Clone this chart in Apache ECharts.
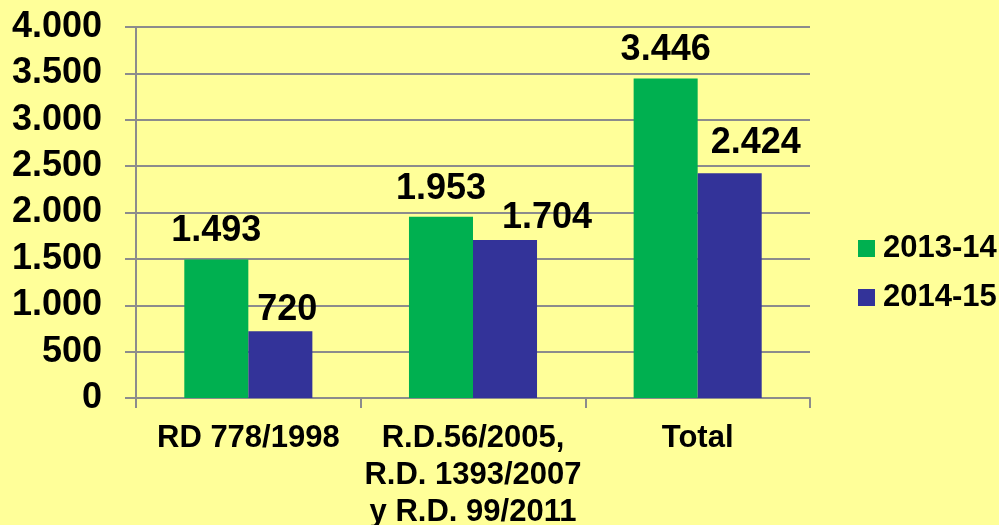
<!DOCTYPE html>
<html>
<head>
<meta charset="utf-8">
<script src="https://cdn.jsdelivr.net/npm/echarts@6/dist/echarts.min.js"></script>
<style>
  html, body { margin: 0; padding: 0; background: #ffff99; }
  #chart { width: 999px; height: 525px; }
</style>
</head>
<body>
<div id="chart"></div>
<script>
const categories = ['RD 778/1998', 'R.D.56/2005,\nR.D. 1393/2007\ny R.D. 99/2011', 'Total']
const seriesNames = ['2013-14', '2014-15']
const values2013 = [1493, 1953, 3446]
const values2014 = [720, 1704, 2424]

// hand placed labels in the original, nudged per point
const labelShift2013 = [[0, 0], [0, 0], [0, 0]]
const labelShift2014 = [[7, 7], [42, 6], [26, -2]]

const fmt = (v) => String(v).replace(/\B(?=(\d{3})+(?!\d))/g, '.')
const font = '"Liberation Sans", Arial, sans-serif'
const axisGray = '#8c8c8c'

function barData(values, shifts) {
  return values.map((v, i) => ({ value: v, label: { offset: shifts[i] } }))
}

const chart = echarts.init(document.getElementById('chart'), null, { renderer: 'canvas' })
chart.setOption({
  backgroundColor: '#ffff99',
  animation: false,
  textStyle: { fontFamily: font },
  grid: { left: 136, right: 189, top: 27, bottom: 127, outerBoundsMode: 'none' },
  legend: {
    orient: 'vertical',
    left: 853,
    top: 228,
    icon: 'rect',
    itemWidth: 17,
    itemHeight: 17,
    itemGap: 18,
    data: seriesNames,
    textStyle: { fontSize: 31, fontWeight: 'bold', color: '#000', lineHeight: 31, padding: [0, 0, 0, 3] },
  },
  xAxis: {
    type: 'category',
    data: categories,
    axisLine: { lineStyle: { color: axisGray, width: 2 } },
    axisTick: { show: true, length: 10, lineStyle: { color: axisGray, width: 2 } },
    axisLabel: {
      color: '#000', fontSize: 31, fontWeight: 'bold', lineHeight: 37, margin: 22, interval: 0,
    },
  },
  yAxis: {
    type: 'value',
    min: 0,
    max: 4000,
    interval: 500,
    axisLine: { show: true, lineStyle: { color: axisGray, width: 2 } },
    axisTick: { show: true, length: 11, lineStyle: { color: axisGray, width: 2 } },
    splitLine: { lineStyle: { color: axisGray, width: 2 } },
    axisLabel: { color: '#000', fontSize: 36, fontWeight: 'bold', margin: 34, formatter: fmt },
  },
  series: [
    {
      name: seriesNames[0],
      type: 'bar',
      data: barData(values2013, labelShift2013),
      barCategoryGap: '43%',
      barGap: 0,
      itemStyle: { color: '#00b050' },
      label: {
        show: true, position: 'top', distance: 10,
        color: '#000', fontSize: 36, fontWeight: 'bold',
        formatter: (p) => fmt(p.value),
      },
    },
    {
      name: seriesNames[1],
      type: 'bar',
      data: barData(values2014, labelShift2014),
      barCategoryGap: '43%',
      barGap: 0,
      itemStyle: { color: '#333399' },
      label: {
        show: true, position: 'top', distance: 10,
        color: '#000', fontSize: 36, fontWeight: 'bold',
        formatter: (p) => fmt(p.value),
      },
    },
  ],
})
</script>
</body>
</html>
